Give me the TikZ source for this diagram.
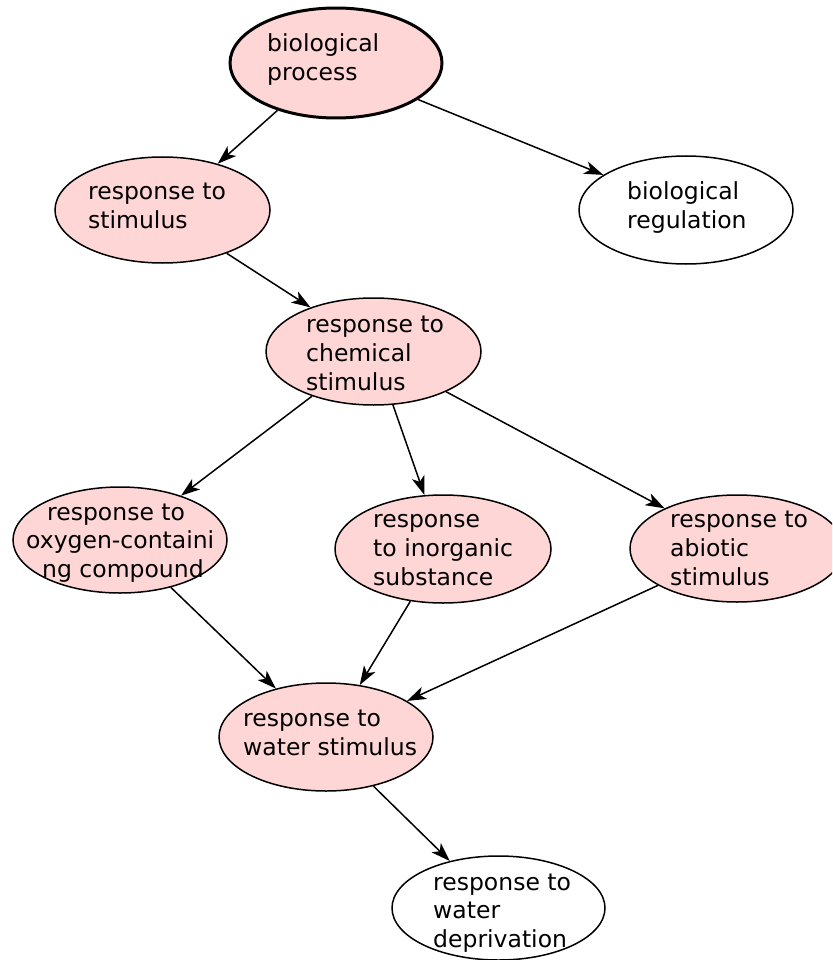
\documentclass[tikz,border=0pt]{standalone}
\usepackage{fontspec}
\setmainfont{DejaVu Sans}
\usetikzlibrary{shapes.geometric,arrows.meta}
\definecolor{gofill}{RGB}{255,214,214}
\begin{document}
\begin{tikzpicture}[x=1pt,y=-1pt,
  term/.style={ellipse, draw=black, line width=1.5pt, fill=gofill, inner sep=0pt},
  plainterm/.style={term, fill=white},
  lbl/.style={anchor=base west, inner sep=0pt, font=\fontsize{23.5}{28}\selectfont},
  edge/.style={draw=black, line width=1.5pt, -{Stealth[length=19pt,width=13pt,inset=5pt]}}]
\useasboundingbox (0,0) rectangle (832,960);
\fill[white] (0,0) rectangle (832,960);
\clip (0,0) rectangle (832,960);

% ellipses
\node[term, line width=3pt, minimum width=212pt, minimum height=110pt] (bp) at (336,63) {};
\node[term, minimum width=215pt, minimum height=106pt] (stim) at (162.5,210) {};
\node[plainterm, minimum width=214pt, minimum height=108pt] (reg) at (686,210) {};
\node[term, minimum width=215pt, minimum height=107pt] (chem) at (373.5,351.5) {};
\node[term, minimum width=214pt, minimum height=106pt] (oxy) at (120,540) {};
\node[term, minimum width=216pt, minimum height=108pt] (inorg) at (443,549) {};
\node[term, minimum width=214pt, minimum height=107pt] (abio) at (737,548.5) {};
\node[term, minimum width=214pt, minimum height=108pt] (ws) at (326,737) {};
\node[plainterm, minimum width=213pt, minimum height=104pt] (wd) at (498.5,908) {};

% labels
\node[lbl] (bp1) at (267,52) {biological};
\node[lbl] (bp2) at (267,81) {process};
\node[lbl] (stim1) at (88,199) {response to};
\node[lbl] (stim2) at (88,228) {stimulus};
\node[lbl] (reg1) at (627,199) {biological};
\node[lbl] (reg2) at (627,228) {regulation};
\node[lbl] (chem1) at (306,332) {response to};
\node[lbl] (chem2) at (306,361) {chemical};
\node[lbl] (chem3) at (306,390) {stimulus};
\node[lbl] (oxy1) at (47,520) {response to};
\node[lbl] (oxy2) at (26,548) {oxygen-containi};
\node[lbl] (oxy3) at (42,577) {ng compound};
\node[lbl] (inorg1) at (373,527) {response};
\node[lbl] (inorg2) at (373,556) {to inorganic};
\node[lbl] (inorg3) at (373,585) {substance};
\node[lbl] (abio1) at (670,527) {response to};
\node[lbl] (abio2) at (670,556) {abiotic};
\node[lbl] (abio3) at (670,585) {stimulus};
\node[lbl] (ws1) at (243,726) {response to};
\node[lbl] (ws2) at (243,755) {water stimulus};
\node[lbl] (wd1) at (433,890) {response to};
\node[lbl] (wd2) at (433,918) {water};
\node[lbl] (wd3) at (433,947) {deprivation};

% edges
\draw[edge] (bp.219.7) -- (stim.40.3);
\draw[edge] (bp.336.3) -- (reg.157.2);
\draw[edge] (stim.326.1) -- (chem.145.4);
\draw[edge] (chem.216.5) -- (oxy.36.9);
\draw[edge] (chem.290) -- (inorg.109.1);
\draw[edge] (chem.331.5) -- (abio.151.3);
\draw[edge] (oxy.317.3) -- (ws.136.1);
\draw[edge] (inorg.238.6) -- (ws.57.9);
\draw[edge] (abio.205.7) -- (ws.24.5);
\draw[edge] (ws.314.4) -- (wd.136.5);
\end{tikzpicture}
\end{document}
